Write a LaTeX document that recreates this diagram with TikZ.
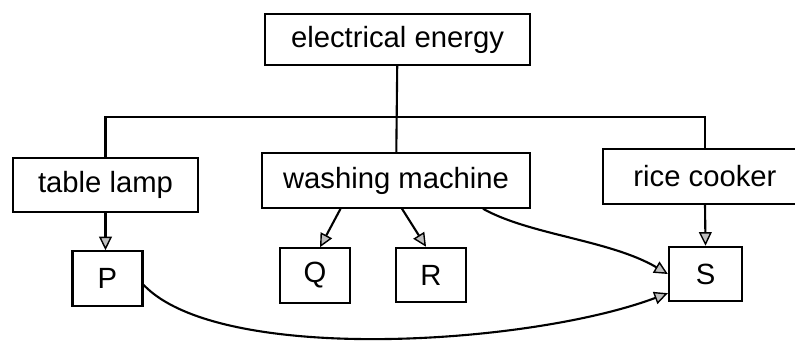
\documentclass[tikz,border=0pt]{standalone}
\usepackage{fontspec}
\setmainfont{Liberation Sans}
\usepackage{tikz}
\usetikzlibrary{arrows.meta,positioning,calc}

\begin{document}
\begin{tikzpicture}[
 x=0.025cm, y=-0.025cm,
 box/.style={draw=black, line width=1.5pt, align=center, font=\fontsize{20.8}{24}\selectfont,
             minimum height=1.36cm, inner sep=2pt},
 ltr/.style={box, minimum width=1.75cm},
 ln/.style={draw=black, line width=1.5pt},
 ar/.style={ln, -{Triangle[length=3.4mm, width=3.2mm, fill=gray!50, line width=1pt]}},
]
 \useasboundingbox (0,0) rectangle (795,341);
 \node[box, minimum width=6.63cm, minimum height=1.28cm] (energy) at (397.5,39.5) {electrical energy};
 \node[box, minimum width=4.63cm] (lamp) at (105.5,185) {table lamp};
 \node[box, minimum width=6.7cm] (washer) at (396,180.5) {washing machine};
 \node[box, minimum width=5.1cm] (cooker) at (705,176.5) {rice cooker};
 \node[ltr] (P) at (107.5,278.5) {P};
 \node[ltr] (Q) at (315,275.5) {Q};
 \node[ltr] (R) at (431,275) {R};
 \node[ltr, minimum width=1.83cm] (S) at (705.5,274) {S};

 % supply tree
 \coordinate (bus) at (396,117);
 \draw[ln] (energy) -- (washer);
 \draw[ln] (lamp.north) |- (bus) -| (cooker.north);
 \draw[ln] (bus) -- (energy.south |- bus);

 \draw[ar] (lamp.south) -- (lamp.south |- P.north);
 \draw[ar] (washer.207) -- (Q.80);
 \draw[ar] (washer.-78) -- (R.100);
 \draw[ar] (cooker.south) -- (S.north);
 \draw[ar] (washer.-18.5) .. controls (530,235) and (610,240) .. (S.west);
 \draw[ar] (P.-10) .. controls (220,365) and (530,345) .. (S.207.5);
\end{tikzpicture}
\end{document}
